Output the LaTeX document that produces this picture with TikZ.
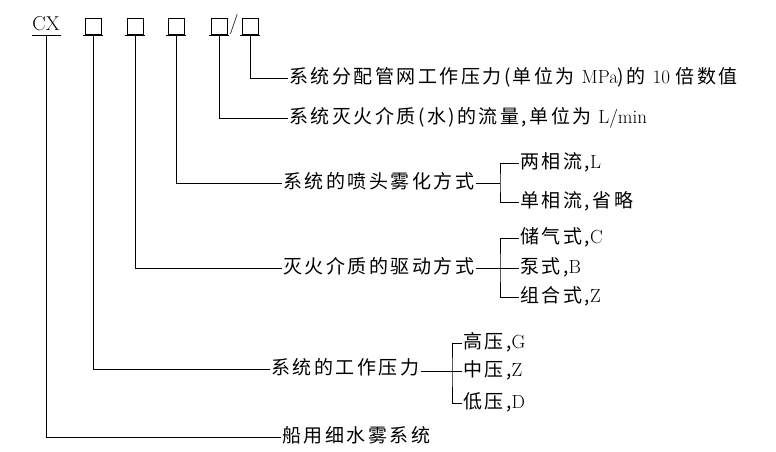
\documentclass[tikz,border=0pt]{standalone}
\usepackage{fontspec}
\newfontfamily\cjk{Noto Sans CJK SC}[Scale=1.0,LetterSpace=13]
\begin{document}
\begin{tikzpicture}[x=1pt,y=-1pt,line width=0.8pt,
  t/.style={anchor=west,inner sep=1pt,text height=14pt,text depth=4pt,font=\fontsize{19}{19}\selectfont},
  bx/.style={draw,line width=0.7pt,minimum width=16pt,minimum height=16pt,inner sep=0pt}]
\useasboundingbox (0,0) rectangle (776,452);
\node[anchor=base west,inner sep=0pt,font=\fontsize{20}{20}\selectfont] (cx) at (32,31) {CX};
\draw (32,35) -- (61,35);
\foreach \n/\x in {b1/93,b2/135,b3/176,b4/219,b5/250}{
  \node[bx] (\n) at (\x,26) {};
  \draw (\x-10,35) -- (\x+10,35);
}
\node[inner sep=0pt,font=\fontsize{20}{20}\selectfont] (sl) at (234,25) {/};
% labels
\node[t] (l5) at (288,78) {\cjk 系统分配管网工作压力(单位为 \rmfamily MPa\cjk )的 \rmfamily 10 \cjk 倍数值};
\node[t] (l4) at (288,118) {\cjk 系统灭火介质(水)的流量,单位为 \rmfamily L/min};
\node[t] (l3) at (282,183) {\cjk 系统的喷头雾化方式};
\node[t] (l2) at (282,268) {\cjk 灭火介质的驱动方式};
\node[t] (l1) at (270,369) {\cjk 系统的工作压力};
\node[t] (l0) at (281,437) {\cjk 船用细水雾系统};
\draw (b5.south) |- (l5.west);
\draw (b4.south) |- (l4.west);
\draw (b3.south) |- (l3.west);
\draw (b2.south) |- (l2.west);
\draw (b1.south) |- (l1.west);
\draw (cx.south |- 0,35) |- (l0.west);
% branches
\node[t] (a1) at (519,163) {\cjk 两相流,\rmfamily L};
\node[t] (a2) at (519,202) {\cjk 单相流,省略};
\coordinate (j3) at (500,183);
\draw (l3.east) -- (j3); \draw (a1.west) -| (j3) |- (a2.west);
\node[t] (c1) at (519,238) {\cjk 储气式,\rmfamily C};
\node[t] (c2) at (519,268) {\cjk 泵式,\rmfamily B};
\node[t] (c3) at (519,297) {\cjk 组合式,\rmfamily Z};
\coordinate (j2) at (500,268);
\draw (l2.east) -- (c2.west); \draw (c1.west) -| (j2) |- (c3.west);
\node[t] (d1) at (462,343) {\cjk 高压,\rmfamily G};
\node[t] (d2) at (462,371) {\cjk 中压,\rmfamily Z};
\node[t] (d3) at (462,403) {\cjk 低压,\rmfamily D};
\coordinate (j1) at (452,371);
\draw (l1.east |- d2.west) -- (d2.west); \draw (d1.west) -| (j1) |- (d3.west);
\end{tikzpicture}
\end{document}
